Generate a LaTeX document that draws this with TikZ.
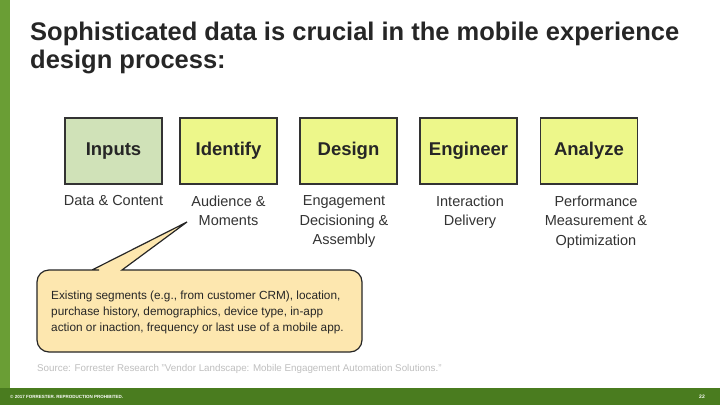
\documentclass[tikz,border=0pt]{standalone}
\usepackage{fontspec}
\setmainfont{Liberation Sans}
\begin{document}
\begin{tikzpicture}[x=1pt,y=-1pt,
  stage/.style={draw=black!80,line width=1.2pt,fill=yellowbox,minimum width=97pt,minimum height=66pt,inner sep=0pt,font=\fontsize{18.5}{20}\selectfont\bfseries,text=black!85},
  sub/.style={font=\fontsize{14.5}{19.5}\selectfont,text=black!80,align=center,anchor=north}]
\definecolor{yellowbox}{HTML}{EDF78A}
\definecolor{greenbox}{HTML}{D0E2B8}
\definecolor{callout}{HTML}{FDE7AF}
\definecolor{bargreen}{HTML}{4A7C1F}
\definecolor{stripe}{HTML}{6A9E35}
\useasboundingbox (0,0) rectangle (720,405);
\fill[white] (0,0) rectangle (720,405);
\fill[stripe] (0,0) rectangle (10,388);
\fill[bargreen] (0,388) rectangle (720,405);
\node[anchor=north west,align=left,font=\fontsize{25.5}{28}\selectfont\bfseries,text=black!85,inner sep=0pt] (title) at (30,22) {Sophisticated data is crucial in the mobile experience\\design process:};
\node[stage,fill=greenbox] (inputs) at (113.5,151) {Inputs};
\node[stage] (identify) at (228.5,151) {Identify};
\node[stage] (design) at (348.5,151) {Design};
\node[stage] (engineer) at (468.5,151) {Engineer};
\node[stage] (analyze) at (589,151) {Analyze};
\node[sub] (s1) at (113.5,192) {Data \& Content};
\node[sub] (s2) at (228.5,192) {Audience \&\\Moments};
\node[sub] (s3) at (344,192) {Engagement\\Decisioning \&\\Assembly};
\node[sub] (s4) at (470,192) {Interaction\\Delivery};
\node[sub] (s5) at (596,192) {Performance\\Measurement \&\\Optimization};
\draw[line width=1.2pt,draw=black!85,fill=callout,rounded corners=12pt]
  (87,270) [sharp corners] -- (92,270) -- (187,222) -- (122,270) [rounded corners=12pt] -- (362,270) -- (362,352) -- (37,352) -- (37,270) -- cycle;
\node[anchor=north west,align=left,font=\fontsize{11.8}{16}\selectfont,text=black!85,inner sep=0pt] (ctext) at (51,291) {Existing segments (e.g., from customer CRM), location,\\purchase history, demographics, device type, in-app\\action or inaction, frequency or last use of a mobile app.};
\node[anchor=west,font=\fontsize{9.8}{11}\selectfont,text=black!25,inner sep=0pt] (src) at (37,369) {Source: Forrester Research "Vendor Landscape: Mobile Engagement Automation Solutions."};
\node[anchor=west,font=\fontsize{4.5}{5}\selectfont\bfseries,text=white,inner sep=0pt] (copy) at (10,396.5) {© 2017 FORRESTER. REPRODUCTION PROHIBITED.};
\node[anchor=east,font=\fontsize{5}{6}\selectfont\bfseries,text=white,inner sep=0pt] (pg) at (705,396.5) {22};
\end{tikzpicture}
\end{document}
